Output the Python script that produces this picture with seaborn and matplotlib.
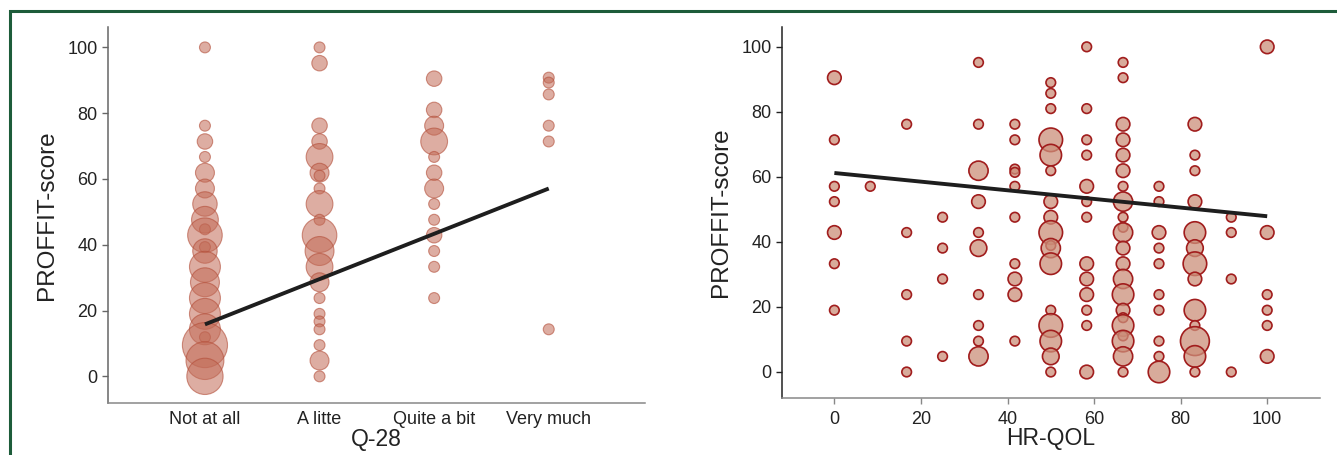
import pandas as pd
import matplotlib.pyplot as plt
from matplotlib.patches import Rectangle
import seaborn as sns
import numpy as np

# ---- left panel: Q-28 answer vs PROFFIT-score, n = number of patients at the point
q28_levels = ['Not at all', 'A litte', 'Quite a bit', 'Very much']

q28_answer = (['Not at all'] * 21 + ['A litte'] * 21 + ['Quite a bit'] * 13 + ['Very much'] * 6)
q28_score = [100, 76.2, 71.4, 66.7, 61.9, 57.1, 52.4, 47.6, 44.7, 42.9, 39.3, 38.1, 33.3, 28.6,
             23.8, 19.0, 14.3, 11.9, 9.5, 4.8, 0,
             100, 95.2, 76.2, 71.4, 66.7, 61.9, 61.0, 57.1, 52.4, 47.6, 42.9, 38.1, 33.3, 28.6,
             23.8, 19.0, 16.7, 14.3, 9.5, 4.8, 0,
             90.5, 81.0, 76.2, 71.4, 66.7, 61.9, 57.1, 52.4, 47.6, 42.9, 38.1, 33.3, 23.8,
             90.8, 89.3, 85.7, 76.2, 71.4, 14.3]
q28_count = [1, 1, 2, 1, 3, 3, 5, 6, 1, 10, 1, 5, 8, 7, 8, 8, 8, 1, 17, 12, 11,
             1, 2, 2, 2, 6, 3, 1, 1, 6, 1, 10, 7, 6, 3, 1, 1, 1, 1, 1, 3, 1,
             2, 2, 3, 6, 1, 2, 3, 1, 1, 2, 1, 1, 1,
             1, 1, 1, 1, 1, 1]
q28_trend = [15.8, 57.1]   # fitted line at 'Not at all' and 'Very much'

# ---- right panel: HR-QOL vs PROFFIT-score
hrqol_x = ([0] * 7 + [8.3] + [16.7] * 5 + [25] * 4 + [33.3] * 10 + [41.7] * 10 + [50] * 17
           + [58.3] * 13 + [66.7] * 22 + [75] * 10 + [83.3] * 13 + [91.7] * 4 + [100] * 6)
hrqol_score = [90.5, 71.4, 57.1, 52.4, 42.9, 33.3, 19.0,
               57.1,
               76.2, 42.9, 23.8, 9.5, 0,
               47.6, 38.1, 28.6, 4.8,
               95.2, 76.2, 61.9, 52.4, 42.9, 38.1, 23.8, 14.3, 9.5, 4.8,
               76.2, 71.4, 62.4, 61.4, 57.1, 47.6, 33.3, 28.6, 23.8, 9.5,
               89.0, 85.7, 81.0, 71.4, 66.7, 61.9, 52.4, 47.6, 42.9, 38.9, 38.1, 33.3, 19.0,
               14.3, 9.5, 4.8, 0,
               100, 81.0, 71.4, 66.7, 57.1, 52.4, 47.6, 33.3, 28.6, 23.8, 19.0, 14.3, 0,
               95.2, 90.5, 76.2, 71.4, 66.7, 61.9, 57.1, 52.4, 47.6, 44.5, 42.9, 38.1, 33.3,
               28.6, 23.8, 19.0, 16.7, 14.3, 11.1, 9.5, 4.8, 0,
               57.1, 52.4, 42.9, 38.1, 33.3, 23.8, 19.0, 9.5, 4.8, 0,
               76.2, 66.7, 61.9, 52.4, 42.9, 38.1, 33.3, 28.6, 19.0, 14.3, 9.5, 4.8, 0,
               47.6, 42.9, 28.6, 0,
               100, 42.9, 23.8, 19.0, 14.3, 4.8]
hrqol_count = [2, 1, 1, 1, 2, 1, 1,
               1,
               1, 1, 1, 1, 1,
               1, 1, 1, 1,
               1, 1, 4, 2, 1, 3, 1, 1, 1, 4,
               1, 1, 1, 1, 1, 1, 1, 2, 2, 1,
               1, 1, 1, 6, 5, 1, 2, 2, 6, 1, 4, 5, 1, 6, 5, 3, 1,
               1, 1, 1, 1, 2, 1, 1, 2, 2, 2, 1, 1, 2,
               1, 1, 2, 2, 2, 2, 1, 4, 1, 1, 4, 2, 2, 4, 5, 2, 1, 5, 1, 5, 4, 1,
               1, 1, 2, 1, 1, 1, 1, 1, 1, 5,
               2, 1, 1, 2, 5, 3, 6, 2, 5, 1, 9, 5, 1,
               1, 1, 1, 1,
               2, 2, 1, 1, 1, 2]
hrqol_trend_x = [0, 100]
hrqol_trend = [61.2, 47.9]

df_q28 = pd.DataFrame({'Q-28': pd.Categorical(q28_answer, categories=q28_levels),
                       'PROFFIT-score': q28_score, 'n': q28_count})
df_hr = pd.DataFrame({'HR-QOL': hrqol_x, 'PROFFIT-score': hrqol_score, 'n': hrqol_count})

sns.set_style('ticks')
plt.rcParams['font.family'] = ['Liberation Sans', 'DejaVu Sans']

fig = plt.figure(figsize=(13.37, 4.55), dpi=100)
W, H = 1337, 455
ax1 = fig.add_axes([108 / W, 1 - 403 / H, (645 - 108) / W, (403 - 27) / H])
ax2 = fig.add_axes([782 / W, 1 - 398 / H, (1320 - 782) / W, (398 - 27) / H])

# left: translucent bubbles
nmax1 = max(q28_count)
sns.scatterplot(data=df_q28, x='Q-28', y='PROFFIT-score', size='n',
                sizes=(0, 62 * nmax1), size_norm=(0, nmax1), legend=False,
                color=(0.76, 0.42, 0.34, 0.55), edgecolor=(0.70, 0.30, 0.22, 0.6),
                linewidth=0.8, ax=ax1, zorder=2)
ax1.plot([q28_levels[0], q28_levels[-1]], q28_trend, color='#1e1e1e', lw=2.8,
         solid_capstyle='butt', zorder=3)
ax1.set_xlim(-0.846, 3.84)
ax1.set_ylim(-8.1, 106.2)

# right: opaque bubbles with dark red outline
nmax2 = max(hrqol_count)
sns.scatterplot(data=df_hr, x='HR-QOL', y='PROFFIT-score', size='n',
                sizes=(0, 48 * nmax2), size_norm=(0, nmax2), legend=False,
                color=(0.80, 0.56, 0.48, 0.75), edgecolor='#a11d1d',
                linewidth=1.2, ax=ax2, zorder=2)
ax2.plot(hrqol_trend_x, hrqol_trend, color='#1e1e1e', lw=2.8,
         solid_capstyle='butt', zorder=3)
ax2.set_xlim(-12.1, 112.2)
ax2.set_ylim(-8.0, 106.1)
ax2.set_xticks([0, 20, 40, 60, 80, 100])

for ax, left_col in [(ax1, '#666666'), (ax2, '#222222')]:
    sns.despine(ax=ax)
    ax.spines['left'].set_color(left_col)
    ax.spines['bottom'].set_color('#888888')
    ax.spines['left'].set_linewidth(1.1)
    ax.spines['bottom'].set_linewidth(1.1)
    ax.set_yticks([0, 20, 40, 60, 80, 100])
    ax.tick_params(axis='both', labelsize=13, colors='#222222', length=4, width=1)
    ax.set_ylabel('PROFFIT-score', fontsize=17.5, color='#222222', labelpad=7)
    ax.set_xlabel(ax.get_xlabel(), fontsize=16.5, color='#222222', labelpad=0)

ax1.tick_params(axis='x', length=0, pad=6)
ax1.tick_params(axis='y', colors='#666666', labelcolor='#222222')
ax2.tick_params(axis='x', colors='#888888', labelcolor='#222222', pad=5)

# green frame of the source page
fig.patches.append(Rectangle((10 / W, -0.1), 1.2, 1.1 - 11 / H, transform=fig.transFigure,
                             fill=False, edgecolor='#1d5c3a', lw=2.2, zorder=10))

fig.savefig('out.png', dpi=100)
